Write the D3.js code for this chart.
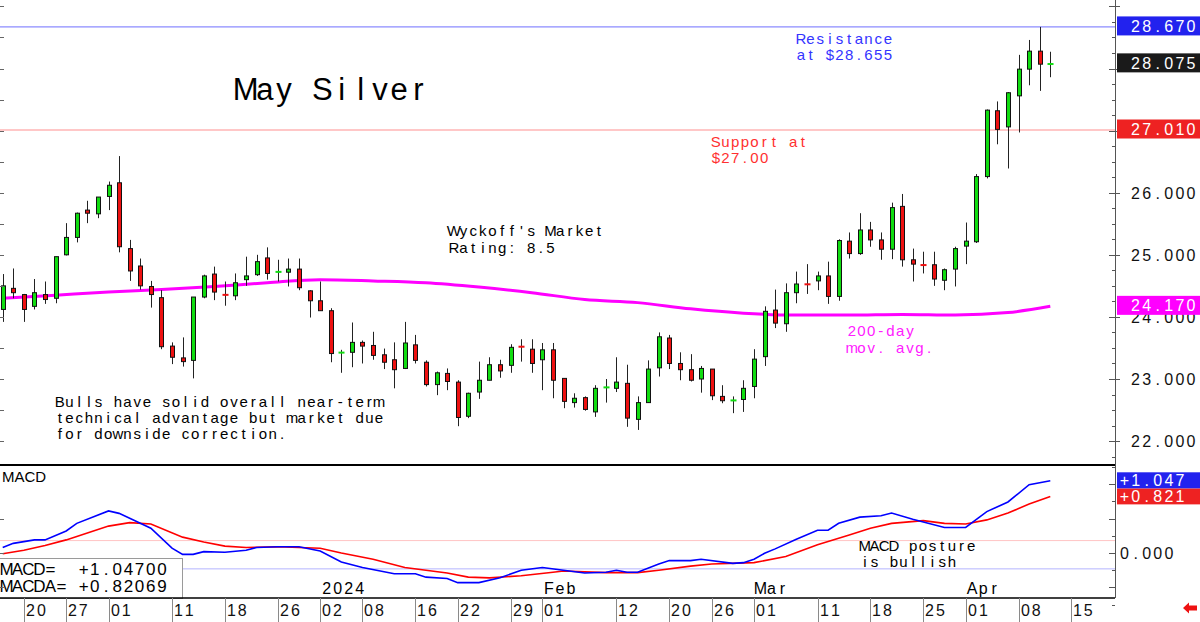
<!DOCTYPE html>
<html>
<head>
<meta charset="utf-8">
<script src="https://cdn.jsdelivr.net/npm/d3@7"></script>
<style>
    body { margin: 0; background: #fff; }
    svg { display: block; }
</style>
</head>
<body>
<div id="chart"></div>
<script>
// daily bars, May silver, Nov 16 2023 .. Apr 11 2024 (one entry per trading day)
const openP  = [24.12,24.46,24.36,24.17,24.36,24.30,25.00,25.28,25.72,25.66,25.94,26.16,25.10,24.82,24.49,24.31,23.53,23.34,23.30,24.32,
                24.69,24.36,24.34,24.60,24.68,24.95,24.72,24.72,24.77,24.42,24.26,24.10,23.42,23.43,23.59,23.54,23.39,23.31,23.17,23.55,
                23.27,22.91,23.09,22.95,22.40,22.79,22.98,23.23,23.22,23.53,23.48,23.31,23.47,23.01,22.62,22.70,22.47,22.86,22.85,22.93,
                22.35,22.62,23.18,23.66,23.25,23.15,23.00,23.16,22.72,22.65,22.67,22.88,23.36,24.11,23.89,24.39,24.53,24.58,24.66,24.33,
                25.22,25.02,25.40,25.24,25.09,25.78,24.92,24.84,24.84,24.59,24.77,25.14,25.21,26.26,27.32,27.06,27.56,27.99,28.28,28.07]
const highP  = [24.69,24.78,24.37,24.61,24.57,24.97,25.51,25.68,25.87,25.93,26.18,26.59,25.24,24.94,24.58,24.43,23.59,23.67,24.32,24.68,
                24.81,24.57,24.70,24.97,25.00,25.12,24.92,24.94,24.94,24.43,24.57,24.14,23.47,23.91,23.62,23.76,23.49,23.59,23.92,23.71,
                23.30,23.12,23.17,22.98,22.78,23.28,23.35,23.31,23.56,23.64,23.64,23.58,23.58,23.01,22.77,22.72,22.90,23.00,23.35,23.23,
                22.72,23.30,23.75,23.71,23.43,23.40,23.21,23.16,22.90,22.72,22.98,23.48,24.17,24.44,24.54,24.73,24.85,24.73,24.89,25.25,
                25.36,25.67,25.53,25.36,25.84,25.98,25.10,25.05,25.05,24.78,25.13,25.52,26.30,27.34,27.47,27.62,28.22,28.46,28.67,28.27]
const lowP   = [23.92,24.30,23.92,24.12,24.21,24.22,24.99,25.20,25.51,25.59,25.72,25.04,24.58,24.44,24.15,23.48,23.24,23.20,23.01,24.30,
                24.27,24.18,24.27,24.50,24.66,24.60,24.57,24.49,24.43,23.99,24.10,23.27,23.10,23.19,23.25,23.31,23.16,22.85,23.16,23.25,
                22.88,22.74,22.82,22.24,22.37,22.68,22.98,23.02,23.10,23.28,23.10,22.82,22.69,22.53,22.54,22.49,22.39,22.62,22.79,22.23,
                22.18,22.62,23.04,23.16,22.98,22.96,22.78,22.66,22.61,22.45,22.47,22.69,23.21,23.82,23.76,24.22,24.37,24.43,24.21,24.26,
                24.94,25.00,25.13,24.92,24.93,24.81,24.57,24.70,24.50,24.43,24.49,24.85,25.19,26.23,26.78,26.39,26.97,27.73,27.64,27.86]
const closeP = [24.50,24.39,24.12,24.39,24.28,24.97,25.28,25.67,25.67,25.93,26.12,25.13,24.74,24.50,24.36,23.52,23.35,23.28,24.32,24.66,
                24.40,24.35,24.55,24.66,24.89,24.70,24.73,24.77,24.47,24.26,24.10,23.41,23.43,23.59,23.53,23.38,23.27,23.15,23.58,23.30,
                22.91,23.10,22.96,22.38,22.77,22.98,23.23,23.13,23.51,23.51,23.25,23.47,22.98,22.64,22.69,22.51,22.85,22.87,22.95,22.37,
                22.62,23.16,23.68,23.25,23.15,22.98,23.17,22.73,22.65,22.66,22.85,23.32,24.09,23.90,24.39,24.53,24.52,24.66,24.33,25.23,
                25.02,25.40,25.24,25.09,25.76,24.92,24.85,24.83,24.61,24.76,25.10,25.22,26.26,27.33,27.02,27.61,27.99,28.28,28.07,28.075]

// 200-day moving average, read at every fifth bar
const maIdx  = [0, 5, 10, 15, 20, 25, 30, 35, 40, 45, 50, 55, 60, 65, 70, 75, 80, 85, 90, 95, 99]
const maVals = [24.30,24.35,24.40,24.44,24.49,24.55,24.60,24.58,24.55,24.48,24.39,24.28,24.23,24.13,24.06,24.03,24.03,24.04,24.03,24.07,24.17]

// MACD (blue) and its average MACDA (red)
const macdIdx  = [0,1,3,4,6,7,10,11,14,16,17,18,19,21,23,24,26,28,30,32,34,37,39,40,42,43,45,47,49,51,53,55,57,58,59,60,62,63,65,66,69,70,71,72,73,75,77,78,79,81,83,84,86,89,91,93,95,97,99]
const macdVals = [0.08,0.14,0.19,0.19,0.32,0.43,0.61,0.575,0.36,0.07,-0.02,-0.02,0.02,0.01,0.04,0.08,0.09,0.09,0.03,-0.13,-0.21,-0.30,-0.30,-0.35,-0.37,-0.43,-0.43,-0.36,-0.25,-0.21,-0.25,-0.29,-0.28,-0.25,-0.28,-0.28,-0.16,-0.11,-0.11,-0.09,-0.15,-0.14,-0.09,-0.005,0.06,0.20,0.33,0.33,0.43,0.52,0.54,0.58,0.49,0.37,0.37,0.60,0.74,0.99,1.047]
const sigIdx   = [0,2,4,6,8,10,12,14,17,19,21,23,26,30,32,35,38,42,44,46,49,52,53,57,60,62,65,67,71,74,77,80,82,84,87,89,91,93,95,97,99]
const sigVals  = [-0.01,0.04,0.11,0.19,0.29,0.39,0.44,0.42,0.23,0.16,0.10,0.08,0.09,0.07,0.00,-0.09,-0.21,-0.29,-0.35,-0.36,-0.33,-0.28,-0.26,-0.285,-0.285,-0.25,-0.19,-0.16,-0.14,-0.05,0.12,0.26,0.36,0.43,0.47,0.43,0.42,0.48,0.58,0.71,0.821]
const macdLast = 1.047
const sigLast = 0.82069
const macdGuides = [0.18, -0.23]

// axis labels
const priceTicks = [22, 23, 24, 25, 26]
const priceMarks = [28.670, 28.075, 27.010, 24.170]   // resistance, last, support, 200-day
const macdTicks = [0]
const dateTicks = ['2023-11-20','2023-11-27','2023-12-01','2023-12-11','2023-12-18','2023-12-26','2024-01-02','2024-01-08',
                   '2024-01-16','2024-01-22','2024-01-29','2024-02-01','2024-02-12','2024-02-20','2024-02-26','2024-03-01',
                   '2024-03-11','2024-03-18','2024-03-25','2024-04-01','2024-04-08','2024-04-15']
const monthTicks = ['2024-01-02','2024-02-01','2024-03-01','2024-04-01']
const monthText  = ['2024','Feb','Mar','Apr']
const holidays = ['2023-11-23','2023-12-25','2024-01-01','2024-01-15','2024-02-19','2024-03-29']

const title = 'May Silver'
const resistanceNote = ['Resistance', 'at $28.655']
const supportNote = ['Support at', '$27.00']
const ratingNote = ["Wyckoff's Market", 'Rating: 8.5']
const maNote = ['200-day', 'mov. avg.']
const bullsNote = ['Bulls have solid overall near-term', 'technical advantage but market due', 'for downside correction.']
const macdNote = ['MACD posture', 'is bullish']

const FONT = 'Liberation Sans, Arial, sans-serif'

class SilverChart {

    constructor(container) {
        this.width = 1200
        this.height = 622
        this.right = 1115
        this.svg = d3.select(container).append('svg')
            .attr('width', this.width)
            .attr('height', this.height)
        this.draw()
    }

    draw() {
        this.generateScales()
        this.drawFrame()
        this.drawPrice()
        this.drawMacd()
        this.drawAxes()
        this.drawNotes()
    }

    generateScales() {
        const fmt = d3.timeFormat('%Y-%m-%d')
        const off = new Set(holidays)
        this.days = d3.timeDay.range(new Date(2023, 10, 16), new Date(2024, 3, 16))
            .filter(d => d.getDay() % 6 !== 0 && !off.has(fmt(d)))
            .map(fmt)
        this.dayIndex = new Map(this.days.map((d, i) => [d, i]))

        this.x = d3.scaleLinear().domain([0, 99]).range([2.7, 1050.3])
        this.y = d3.scaleLinear().domain([22, 27.01]).range([441.1, 130])
        this.ym = d3.scaleLinear().domain([0, macdLast]).range([553, 480.8])
    }

    // glyphs centred in fixed cells, like the fixed-pitch chart font
    monoText(g, str, x, y, cell, size, color) {
        return g.append('text')
            .attr('x', Array.from(str).map((c, i) => (x + cell * (i + 0.5)).toFixed(1)).join(' '))
            .attr('y', y)
            .attr('text-anchor', 'middle')
            .style('font-family', FONT)
            .style('font-size', size + 'px')
            .attr('fill', color)
            .text(str)
    }

    drawFrame() {
        const svg = this.svg
        const defs = svg.append('defs')
        defs.append('clipPath').attr('id', 'clipMain')
            .append('rect').attr('x', 0).attr('y', 0).attr('width', this.right).attr('height', 465)
        defs.append('clipPath').attr('id', 'clipMacd')
            .append('rect').attr('x', 0).attr('y', 465).attr('width', this.right).attr('height', 133)

        // resistance / support levels
        svg.append('line').attr('x1', 0).attr('x2', this.right)
            .attr('y1', this.y(priceMarks[0])).attr('y2', this.y(priceMarks[0]))
            .attr('stroke', '#6f6fff').attr('stroke-width', 1)
        svg.append('line').attr('x1', 0).attr('x2', this.right)
            .attr('y1', this.y(priceMarks[2])).attr('y2', this.y(priceMarks[2]))
            .attr('stroke', '#ff8f8f').attr('stroke-width', 1)
    }

    drawPrice() {
        const x = this.x, y = this.y
        const plot = this.svg.append('g').attr('clip-path', 'url(#clipMain)')

        const ma = d3.line()
            .x(d => x(d[0]))
            .y(d => y(d[1]))
            .curve(d3.curveMonotoneX)
        plot.append('path')
            .datum(maIdx.map((d, i) => [d, maVals[i]]))
            .attr('d', ma)
            .attr('fill', 'none')
            .attr('stroke', '#ff00ff')
            .attr('stroke-width', 3)

        const bars = d3.range(openP.length).map(i => ({ i, o: openP[i], h: highP[i], l: lowP[i], c: closeP[i] }))
        const green = '#11dd11', red = '#ee1111'
        const g = plot.append('g').attr('class', 'candles')

        g.selectAll('line.wick')
            .data(bars)
            .enter()
            .append('line')
            .attr('class', 'wick')
            .attr('x1', d => Math.round(x(d.i)) + 0.5)
            .attr('x2', d => Math.round(x(d.i)) + 0.5)
            .attr('y1', d => y(d.h))
            .attr('y2', d => y(d.l))
            .attr('stroke', '#222')
            .attr('stroke-width', 1)

        g.selectAll('rect.body')
            .data(bars)
            .enter()
            .append('rect')
            .attr('class', 'body')
            .each(function (d) {
                const top = y(Math.max(d.o, d.c)), bot = y(Math.min(d.o, d.c))
                const cx = Math.round(x(d.i)) + 0.5
                const col = d.c >= d.o ? green : red
                const r = d3.select(this)
                if (bot - top < 2) {
                    r.attr('x', cx - 3).attr('y', (top + bot) / 2 - 1)
                     .attr('width', 6).attr('height', 2)
                     .attr('fill', col)
                } else {
                    r.attr('x', cx - 2).attr('y', top)
                     .attr('width', 4).attr('height', bot - top)
                     .attr('fill', col).attr('stroke', '#111').attr('stroke-width', 1)
                }
            })
    }

    drawMacd() {
        const x = this.x, ym = this.ym
        const plot = this.svg.append('g').attr('clip-path', 'url(#clipMacd)')

        plot.selectAll('line.guide')
            .data(macdGuides)
            .enter()
            .append('line')
            .attr('x1', 0).attr('x2', this.right)
            .attr('y1', d => ym(d)).attr('y2', d => ym(d))
            .attr('stroke', (d, i) => i === 0 ? '#ffc4c4' : '#b4b4ff')
            .attr('stroke-width', 1)

        const line = d3.line().x(d => x(d[0])).y(d => ym(d[1]))
        plot.append('path')
            .datum(sigIdx.map((d, i) => [d, sigVals[i]]))
            .attr('d', line)
            .attr('fill', 'none').attr('stroke', '#ff0000').attr('stroke-width', 1.6)
        plot.append('path')
            .datum(macdIdx.map((d, i) => [d, macdVals[i]]))
            .attr('d', line)
            .attr('fill', 'none').attr('stroke', '#0000ff').attr('stroke-width', 1.6)

        this.svg.append('text')
            .text('MACD')
            .attr('x', 2).attr('y', 482)
            .style('font-family', FONT).style('font-size', '15px')
            .attr('fill', '#000')

        // month names sit inside the panel, just above the date row
        monthTicks.forEach((d, k) => {
            this.monoText(this.svg, monthText[k], x(this.dayIndex.get(d)) + 1, 594, 11, 16, '#000')
        })

        // last-value legend
        const leg = this.svg.append('g')
        leg.append('rect')
            .attr('x', -1).attr('y', 558.5).attr('width', 183.5).attr('height', 40)
            .attr('fill', '#fff').attr('stroke', '#9a9a9a').attr('stroke-width', 1)
        const f5 = d3.format('+.5f')
        this.monoText(leg, 'MACD=', 1, 575, 11, 17, '#000')
        this.monoText(leg, f5(macdLast), 78, 575, 11.2, 17, '#000')
        this.monoText(leg, 'MACDA=', 1, 592, 11, 17, '#000')
        this.monoText(leg, f5(sigLast), 78, 592, 11.2, 17, '#000')
    }

    drawAxes() {
        const svg = this.svg, y = this.y, ym = this.ym, x = this.x
        const R = this.right
        const axis = svg.append('g')

        // panel borders
        axis.append('line').attr('x1', 0).attr('x2', R).attr('y1', 465).attr('y2', 465)
            .attr('stroke', '#000').attr('stroke-width', 2)
        axis.append('line').attr('x1', 0).attr('x2', R).attr('y1', 598).attr('y2', 598)
            .attr('stroke', '#000').attr('stroke-width', 1.5)
        axis.append('line').attr('x1', R + 0.5).attr('x2', R + 0.5).attr('y1', 0).attr('y2', 598)
            .attr('stroke', '#555').attr('stroke-width', 1)

        // price ticks, both edges
        const pt = d3.range(21.75, 29.01, 0.25)
        axis.selectAll('line.pt')
            .data(pt)
            .enter()
            .append('line')
            .attr('x1', d => Number.isInteger(d) ? R - 6 : R - 3)
            .attr('x2', d => Number.isInteger(d) ? R + 5 : R)
            .attr('y1', d => Math.round(y(d)) + 0.5).attr('y2', d => Math.round(y(d)) + 0.5)
            .attr('stroke', '#555')
        axis.selectAll('line.lt')
            .data(pt.filter(d => d % 0.5 === 0))
            .enter()
            .append('line')
            .attr('x1', 0).attr('x2', 4)
            .attr('y1', d => Math.round(y(d)) + 0.5).attr('y2', d => Math.round(y(d)) + 0.5)
            .attr('stroke', '#666')

        const mt = d3.range(-0.75, 1.26, 0.25)
        axis.selectAll('line.mt')
            .data(mt)
            .enter()
            .append('line')
            .attr('x1', d => d % 0.5 === 0 ? R - 6 : R - 3)
            .attr('x2', R)
            .attr('y1', d => Math.round(ym(d)) + 0.5).attr('y2', d => Math.round(ym(d)) + 0.5)
            .attr('stroke', '#555')
        axis.selectAll('line.mlt')
            .data(mt.filter(d => d % 0.5 === 0 && d <= 0.5))
            .enter()
            .append('line')
            .attr('x1', 0).attr('x2', 4)
            .attr('y1', d => Math.round(ym(d)) + 0.5).attr('y2', d => Math.round(ym(d)) + 0.5)
            .attr('stroke', '#666')

        const f3 = d3.format('.3f')
        priceTicks.forEach(v => this.monoText(axis, f3(v), 1130, y(v) + 6, 11.1, 16, '#111'))
        macdTicks.forEach(v => this.monoText(axis, ' ' + f3(v), 1119, ym(v) + 6, 11.1, 16, '#111'))

        // value boxes on the price scale
        const boxFill = ['#2222ee', '#1a1a1a', '#ee2222', '#ff00ff']
        priceMarks.forEach((v, k) => {
            const cy = y(v) - 1
            axis.append('rect').attr('x', 1117).attr('y', cy - 9.5).attr('width', 83).attr('height', 19)
                .attr('fill', boxFill[k])
            this.monoText(axis, f3(v), 1130, cy + 6, 11.1, 16, '#fff')
        })

        // MACD value boxes (red under blue)
        const f3s = d3.format('+.3f')
        axis.append('rect').attr('x', 1117).attr('y', ym(0.821) - 8).attr('width', 83).attr('height', 16)
            .attr('fill', '#ee2222')
        this.monoText(axis, f3s(0.821), 1119, ym(0.821) + 6, 11.1, 16, '#fff')
        axis.append('rect').attr('x', 1117).attr('y', ym(macdLast) - 8.5).attr('width', 83).attr('height', 16)
            .attr('fill', '#2222ee')
        this.monoText(axis, f3s(macdLast), 1119, ym(macdLast) + 5.5, 11.1, 16, '#fff')

        // date row
        const dx = d => {
            const i = this.dayIndex.get(d)
            return x(i)
        }
        dateTicks.forEach(d => {
            const px = Math.round(dx(d)) + 0.5
            axis.append('line').attr('x1', px).attr('x2', px).attr('y1', 598).attr('y2', 622)
                .attr('stroke', '#8a8a8a')
            this.monoText(axis, d.slice(8), px + 0.5, 616, 10.9, 16, '#111')
        })

        // scroll arrow
        axis.append('path')
            .attr('d', 'M1183,608 L1189,602.5 L1189,605.5 L1197,605.5 L1197,610.5 L1189,610.5 L1189,613.5 Z')
            .attr('fill', '#ee1111')
    }

    drawNotes() {
        const g = this.svg.append('g')
        const lines = (arr, x, y0, dy, color) =>
            arr.forEach((s, k) => this.monoText(g, s, x, y0 + k * dy, 9.67, 15, color))

        this.monoText(g, title, 236, 100, 19.2, 31, '#000')
        lines(resistanceNote, 796, 44, 15.5, '#3434ff')
        lines(supportNote, 711, 147, 16, '#ff3030')
        lines(ratingNote, 449, 236, 16.5, '#000')
        lines(maNote, 847, 336, 16.5, '#ff20ff')
        lines(bullsNote, 55, 407, 16.2, '#000')
        lines(macdNote, 860, 551, 15.7, '#000')
    }
}

new SilverChart(document.getElementById('chart'))
</script>
</body>
</html>
